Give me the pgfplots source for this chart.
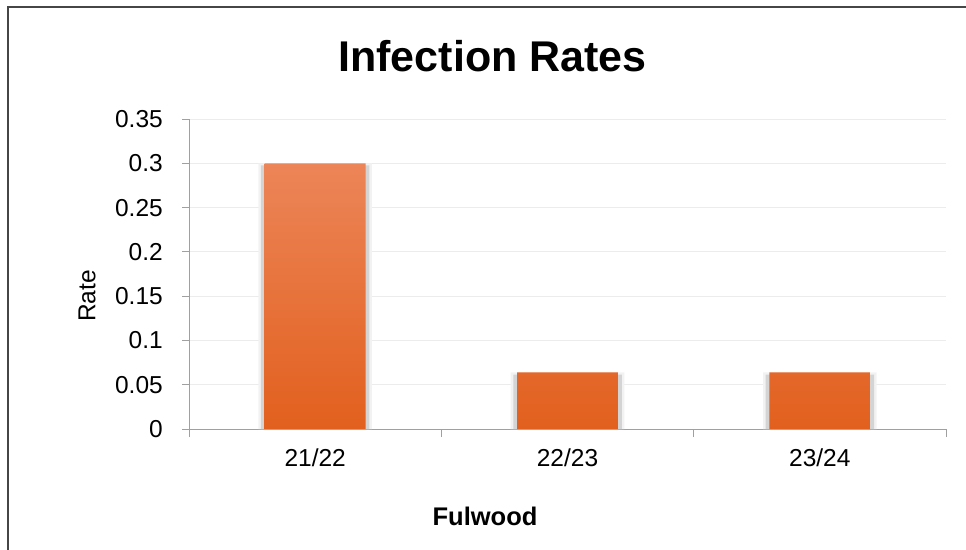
\documentclass[border=0pt]{standalone}
\usepackage{pgfplots}
\pgfplotsset{compat=1.18}
\usepackage{fontspec}
\setmainfont{Liberation Sans}
\definecolor{bartop}{RGB}{236,133,88}
\definecolor{barmid}{RGB}{242,118,42}
\definecolor{barbot}{RGB}{226,96,30}
\definecolor{gridc}{RGB}{236,236,236}
\definecolor{axc}{RGB}{160,160,160}
\definecolor{framec}{RGB}{70,70,70}
\begin{document}
\begin{tikzpicture}[x=1pt,y=1pt]
\useasboundingbox (0,0) rectangle (966,549);
\draw[line width=1.6pt, framec] (8,-5) -- (8,542) -- (975,542);
\node[font=\fontsize{43}{50}\selectfont\bfseries, anchor=base, inner sep=0pt] at (492.5,477) {Infection Rates};
\node[font=\fontsize{24.5}{28}\selectfont, rotate=90, anchor=center, inner sep=0pt] at (87,253) {Rate};
\node[font=\fontsize{25.5}{29}\selectfont\bfseries, anchor=base, inner sep=0pt] at (485,24) {Fulwood};
\begin{axis}[
  at={(189pt,120pt)}, anchor=south west,
  scale only axis, width=757pt, height=310pt,
  xmin=-0.5, xmax=2.5, ymin=0, ymax=0.35,
  axis x line*=bottom, axis y line*=left,
  axis line style={axc, line width=0.8pt},
  xtick={0,1,2}, xticklabels={21/22,22/23,23/24},
  minor xtick={-0.5,0.5,1.5,2.5},
  ytick={0,0.05,0.1,0.15,0.2,0.25,0.3,0.35},
  yticklabels={0,0.05,0.1,0.15,0.2,0.25,0.3,0.35},
  tick align=outside,
  major x tick style={draw=none},
  minor x tick style={axc, line width=0.8pt},
  major y tick style={axc, line width=0.8pt},
  major tick length=7pt, minor tick length=8pt,
  ymajorgrids, grid style={gridc, line width=0.8pt},
  tick label style={font=\fontsize{24.5}{28}\selectfont, inner sep=0pt},
  yticklabel style={xshift=-19pt},
  xticklabel style={yshift=-13pt},
  clip=false,
]
\addplot[ybar, bar width=0.45, bar shift=0pt, fill=black!5, draw=none] coordinates {(0,0.3) (1,0.064) (2,0.064)};
\addplot[ybar, bar width=0.43, bar shift=0pt, fill=black!17, draw=none] coordinates {(0,0.2975) (1,0.0615) (2,0.0615)};
\addplot[ybar, bar width=0.40, bar shift=0pt, draw=none, top color=bartop, middle color=barmid, bottom color=barbot] coordinates {(0,0.3) (1,0.064) (2,0.064)};
\end{axis}
\end{tikzpicture}
\end{document}
